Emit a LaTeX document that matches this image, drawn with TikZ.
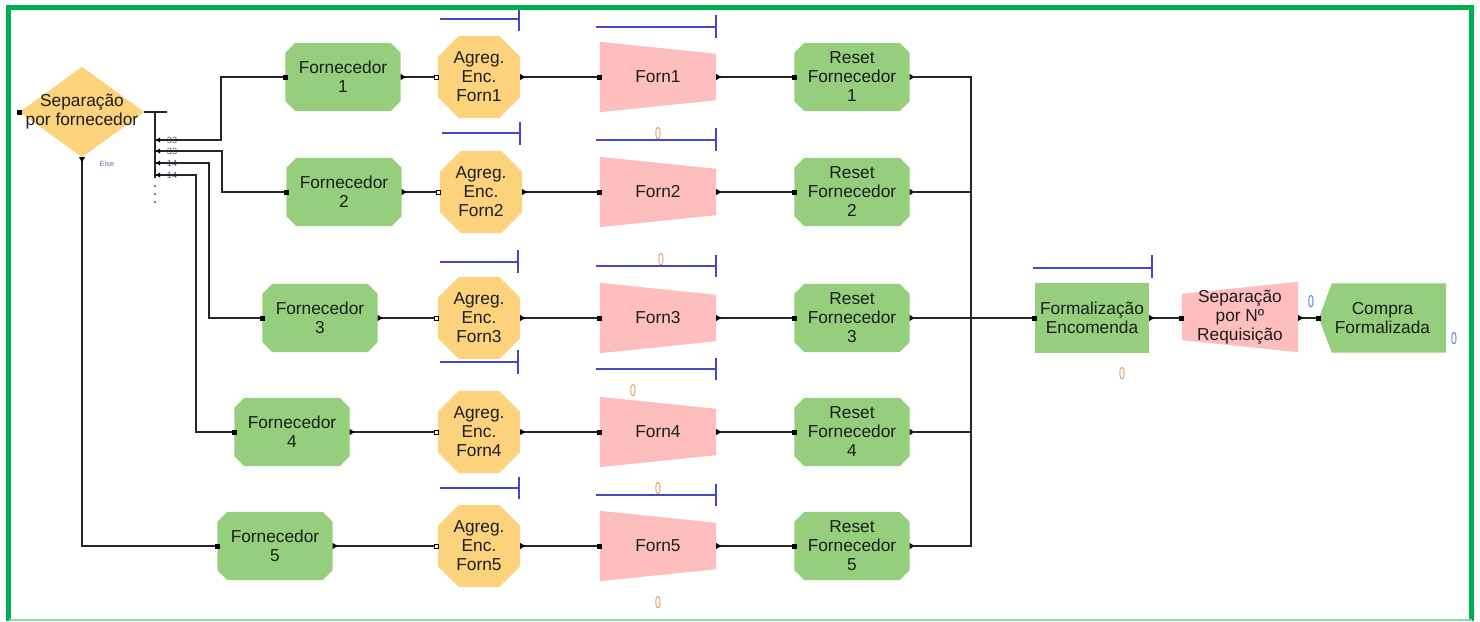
\documentclass[tikz,border=0pt]{standalone}
\usepackage{fontspec}
\setmainfont{Liberation Sans}
\usetikzlibrary{calc}
\pgfdeclarelayer{background}
\pgfsetlayers{background,main}

\definecolor{frame}{RGB}{0,176,80}
\definecolor{framelt}{RGB}{140,220,170}
\definecolor{procgreen}{RGB}{149,207,125}
\definecolor{agregorange}{RGB}{252,210,124}
\definecolor{queuepink}{RGB}{255,190,190}
\definecolor{gaugeblue}{RGB}{70,70,200}
\definecolor{countorange}{RGB}{225,150,95}
\definecolor{countblue}{RGB}{90,110,215}
\definecolor{ink}{RGB}{30,30,30}
\definecolor{lblslate}{RGB}{70,85,120}

% block outlines, drawn from the anchors of a plain rectangle node
\newcommand\chamfered[3]{% node, corner cut, colour
  \fill[#3] ([xshift=#2]#1.north west) -- ([xshift=-#2]#1.north east)
    -- ([yshift=-#2]#1.north east) -- ([yshift=#2]#1.south east)
    -- ([xshift=-#2]#1.south east) -- ([xshift=#2]#1.south west)
    -- ([yshift=#2]#1.south west) -- ([yshift=-#2]#1.north west) -- cycle;}
\newcommand\narrowright[2]{% node, inset on the right side
  \fill[queuepink] (#1.north west) -- ([yshift=-#2]#1.north east)
    -- ([yshift=#2]#1.south east) -- (#1.south west) -- cycle;}
\newcommand\narrowleft[2]{% node, inset on the left side
  \fill[queuepink] ([yshift=-#2]#1.north west) -- (#1.north east)
    -- (#1.south east) -- ([yshift=#2]#1.south west) -- cycle;}
% connector ports
\newcommand\inport[1]{\fill[black] ([shift={(-2.5pt,-2.5pt)}]#1) rectangle ([shift={(2.5pt,2.5pt)}]#1);}
\newcommand\openport[1]{\filldraw[fill=white,draw=black,line width=0.8pt] ([shift={(-3.5pt,-2pt)}]#1) rectangle ([shift={(0.5pt,2pt)}]#1);}
\newcommand\outport[1]{\fill[black] ([yshift=3pt]#1) -- ([xshift=5pt]#1) -- ([yshift=-3pt]#1) -- cycle;}

\begin{document}
\begin{tikzpicture}[x=1pt,y=-1pt,
  box/.style={rectangle, inner sep=0pt, align=center, text=ink,
    font=\fontsize{17.3}{19}\selectfont},
  proc/.style={box, minimum width=115pt, minimum height=68pt},
  agreg/.style={box, minimum width=82pt, minimum height=82pt},
  queue/.style={box, minimum width=116pt, minimum height=70pt},
  flow/.style={line width=1.1pt, black!85},
  gauge/.style={line width=1.2pt, gaugeblue},
  count/.style={font=\fontsize{17}{17}\selectfont, xscale=0.62, inner sep=0pt},
  branchlbl/.style={font=\fontsize{9}{9}\selectfont, text=lblslate, inner sep=0pt},
]
\useasboundingbox (0,0) rectangle (1480,621);

% ---- blocks ----
\node[box, minimum width=124pt, minimum height=90pt] (sep) at (82,112) {Separação\\por fornecedor};

\node[proc] (f1) at (343,77)  {Fornecedor\\1};
\node[proc] (f2) at (344,192) {Fornecedor\\2};
\node[proc] (f3) at (320,318) {Fornecedor\\3};
\node[proc] (f4) at (292,432) {Fornecedor\\4};
\node[proc] (f5) at (275,546) {Fornecedor\\5};

\node[agreg] (a1) at (479,77)  {Agreg.\\Enc.\\Forn1};
\node[agreg] (a2) at (481,192) {Agreg.\\Enc.\\Forn2};
\node[agreg] (a3) at (479,318) {Agreg.\\Enc.\\Forn3};
\node[agreg] (a4) at (479,432) {Agreg.\\Enc.\\Forn4};
\node[agreg] (a5) at (479,546) {Agreg.\\Enc.\\Forn5};

\node[queue] (q1) at (658,77)  {Forn1};
\node[queue] (q2) at (658,192) {Forn2};
\node[queue] (q3) at (658,318) {Forn3};
\node[queue] (q4) at (658,432) {Forn4};
\node[queue] (q5) at (658,546) {Forn5};

\node[proc] (r1) at (852,77)  {Reset\\Fornecedor\\1};
\node[proc] (r2) at (852,192) {Reset\\Fornecedor\\2};
\node[proc] (r3) at (852,318) {Reset\\Fornecedor\\3};
\node[proc] (r4) at (852,432) {Reset\\Fornecedor\\4};
\node[proc] (r5) at (852,546) {Reset\\Fornecedor\\5};

\node[box, minimum width=114pt, minimum height=69pt] (fe) at (1092,318) {Formalização\\Encomenda};
\node[box, minimum width=116pt, minimum height=70pt] (sn) at (1240,317) {Separação\\por Nº\\Requisição};
\node[box, minimum width=127pt, minimum height=69pt] (cf) at (1382.5,318) {Compra\\Formalizada};

% ---- block fills ----
\begin{pgfonlayer}{background}
  \fill[agregorange] (sep.north) -- (sep.east) -- (sep.south) -- (sep.west) -- cycle;
  \foreach \n in {f1,f2,f3,f4,f5,r1,r2,r3,r4,r5} {\chamfered{\n}{10pt}{procgreen}}
  \foreach \n in {a1,a2,a3,a4,a5} {\chamfered{\n}{21pt}{agregorange}}
  \foreach \n in {q1,q2,q3,q4,q5} {\narrowright{\n}{12pt}}
  \narrowleft{sn}{12pt}
  \fill[procgreen] (fe.north west) rectangle (fe.south east);
  \fill[procgreen] (cf.west) -- ([xshift=13pt]cf.north west) -- (cf.north east)
    -- (cf.south east) -- ([xshift=13pt]cf.south west) -- cycle;
\end{pgfonlayer}

% ---- split of the decision block ----
\coordinate (stubend) at (167,112);
\coordinate (split) at (155,112);
\coordinate (splitend) at (155,178);
\coordinate (b1) at (155,140);
\coordinate (b2) at (155,151);
\coordinate (b3) at (155,163);
\coordinate (b4) at (155,175);

\node[branchlbl] (l1) at (172,140) {33};
\node[branchlbl] (l2) at (172,151) {33};
\node[branchlbl] (l3) at (172,163) {14};
\node[branchlbl] (l4) at (172,175) {14};
\node[font=\fontsize{7.5}{7.5}\selectfont, text=lblslate!80, inner sep=0pt] (lelse) at (107,164) {Else};

\draw[flow] (sep.east) -- (stubend);
\draw[flow] (split) -- (splitend);
\draw[flow] (b1) -- ++(66,0) |- (f1.west);
\draw[flow] (b2) -- ++(67,0) |- (f2.west);
\draw[flow] (b3) -- ++(54,0) |- (f3.west);
\draw[flow] (b4) -- ++(41,0) |- (f4.west);
\draw[flow] (sep.south) |- (f5.west);
\foreach \b in {b1,b2,b3,b4}
  \fill[black] ([xshift=1pt]\b) -- ([shift={(5pt,2.5pt)}]\b) -- ([shift={(5pt,-2.5pt)}]\b) -- cycle;
\foreach \k in {0,1,2}
  \fill[black] (155,186+8*\k) circle (0.8pt);
\inport{sep.west}
\fill[black] ([xshift=-3pt]sep.south) -- ([xshift=3pt]sep.south) -- ([yshift=-5pt]sep.south) -- cycle;

% ---- rows ----
\foreach \i in {1,...,5} {
  \draw[flow] (f\i.east) -- (a\i.west);
  \draw[flow] (a\i.east) -- (q\i.west);
  \draw[flow] (q\i.east) -- (r\i.west);
  \outport{f\i.east}
  \openport{a\i.west}
  \outport{a\i.east}
  \inport{f\i.west}
  \inport{q\i.west}
  \outport{q\i.east}
  \inport{r\i.west}
  \outport{r\i.east}
}

% ---- collector and final stages ----
\coordinate (col) at (971,318);
\draw[flow] (r1.east) -- (r1.east -| col) -- (r5.east -| col) -- (r5.east);
\foreach \i in {2,3,4} \draw[flow] (r\i.east) -- (r\i.east -| col);
\draw[flow] (col) -- (fe.west);
\draw[flow] (fe.east) -- (sn.west |- fe.east);
\draw[flow] (sn.east |- cf.west) -- (cf.west);
\inport{fe.west}
\outport{fe.east}
\inport{sn.west |- fe.east}
\outport{sn.east |- cf.west}
\inport{cf.west}

% ---- level gauges ----
\draw[gauge] (440,19) -- (519,19);   \draw[gauge] (519,9) -- (519,31);
\draw[gauge] (442,133) -- (520,133); \draw[gauge] (520,122) -- (520,145);
\draw[gauge] (440,262) -- (518,262); \draw[gauge] (518,250) -- (518,273);
\draw[gauge] (440,362) -- (518,362); \draw[gauge] (518,350) -- (518,374);
\draw[gauge] (440,488) -- (519,488); \draw[gauge] (519,477) -- (519,499);

\draw[gauge] (596,27) -- (716,27);   \draw[gauge] (716,15) -- (716,38);
\draw[gauge] (596,140) -- (716,140); \draw[gauge] (716,128) -- (716,151);
\draw[gauge] (596,266) -- (716,266); \draw[gauge] (716,255) -- (716,277);
\draw[gauge] (596,369) -- (716,369); \draw[gauge] (716,358) -- (716,380);
\draw[gauge] (596,495) -- (716,495); \draw[gauge] (716,484) -- (716,506);

\draw[gauge] (1033,268) -- (1152,268); \draw[gauge] (1152,255) -- (1152,278);

% ---- counters ----
\node[count, text=countorange] (c1) at (658,134) {0};
\node[count, text=countorange] (c2) at (661,260) {0};
\node[count, text=countorange] (c3) at (633,391) {0};
\node[count, text=countorange] (c4) at (658,489) {0};
\node[count, text=countorange] (c5) at (658,603) {0};
\node[count, text=countorange] (c6) at (1122,374) {0};
\node[count, text=countblue] (c7) at (1311,302) {0};
\node[count, text=countblue] (c8) at (1454,339) {0};

% ---- frame ----
\draw[frame, line width=5pt] (8.5,621) -- (8.5,7.5) -- (1471.5,7.5) -- (1471.5,621);
\draw[framelt, line width=2pt] (8.5,620) -- (1471.5,620);
\end{tikzpicture}
\end{document}
